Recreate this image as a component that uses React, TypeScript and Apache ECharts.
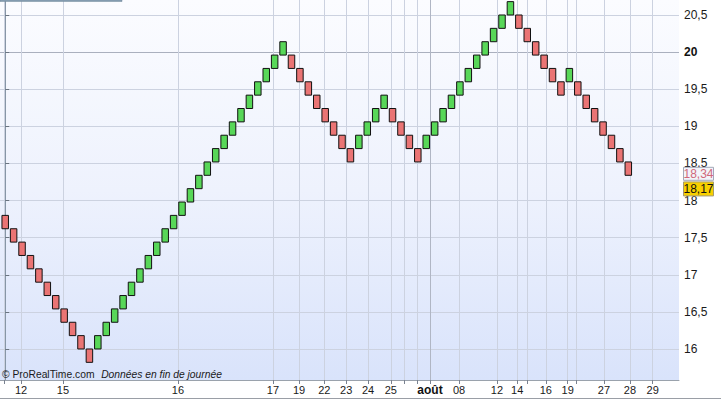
import React, { useEffect, useRef } from 'react';
import * as echarts from 'echarts';

// Renko bricks (box size 0.18), open and close of each brick, left to right
const brickOpen = [
  17.80, 17.62, 17.44, 17.26, 17.08, 16.90, 16.72, 16.54, 16.36, 16.18, 16.00,
  16.00, 16.18, 16.36, 16.54, 16.72, 16.90, 17.08, 17.26, 17.44, 17.62, 17.80, 17.98,
  18.16, 18.34, 18.52, 18.70, 18.88, 19.06, 19.24, 19.42, 19.60, 19.78, 19.96,
  19.96, 19.78, 19.60, 19.42, 19.24, 19.06, 18.88, 18.70,
  18.70, 18.88, 19.06, 19.24,
  19.24, 19.06, 18.88, 18.70,
  18.70, 18.88, 19.06, 19.24, 19.42, 19.60, 19.78, 19.96, 20.14, 20.32, 20.50,
  20.50, 20.32, 20.14, 19.96, 19.78, 19.60,
  19.60,
  19.60, 19.42, 19.24, 19.06, 18.88, 18.70, 18.52,
];
const brickClose = [
  17.62, 17.44, 17.26, 17.08, 16.90, 16.72, 16.54, 16.36, 16.18, 16.00, 15.82,
  16.18, 16.36, 16.54, 16.72, 16.90, 17.08, 17.26, 17.44, 17.62, 17.80, 17.98, 18.16,
  18.34, 18.52, 18.70, 18.88, 19.06, 19.24, 19.42, 19.60, 19.78, 19.96, 20.14,
  19.78, 19.60, 19.42, 19.24, 19.06, 18.88, 18.70, 18.52,
  18.88, 19.06, 19.24, 19.42,
  19.06, 18.88, 18.70, 18.52,
  18.88, 19.06, 19.24, 19.42, 19.60, 19.78, 19.96, 20.14, 20.32, 20.50, 20.68,
  20.32, 20.14, 19.96, 19.78, 19.60, 19.42,
  19.78,
  19.42, 19.24, 19.06, 18.88, 18.70, 18.52, 18.34,
];

// x axis (brick index scale): grid/tick positions and labelled dates
const xTickPos = [-0.14, 1.88, 6.86, 20.52, 31.8, 34.9, 37.9, 40.5, 43.1, 45.8, 47.4, 48.9, 50.45, 53.9, 58.4, 60.8, 61.97, 64.2, 66.8, 67.8, 71.1, 74.2, 76.9];
const xLabelPos = [1.88, 6.86, 20.52, 31.8, 34.9, 37.9, 40.5, 43.1, 45.8, 50.45, 53.9, 58.4, 60.8, 64.2, 66.8, 71.1, 74.2, 76.9];
const xLabels = ['12', '15', '16', '17', '19', '22', '23', '24', '25', 'août', '08', '12', '14', '16', '19', '27', '28', '29'];
const xMajor = [50.45];

const yTicks = [16, 16.5, 17, 17.5, 18, 18.5, 19, 19.5, 20, 20.5];
const yMajor = [20];

const lastClose = 18.34;
const lastPrice = 18.17;

const FONT = '"Liberation Sans", Arial, sans-serif';
const GREEN = '#58d758';
const RED = '#ea7474';

export default function App() {
  const ref = useRef<HTMLDivElement>(null);

  useEffect(() => {
    if (!ref.current) return;
    const chart = echarts.init(ref.current, null, { renderer: 'svg' });
    const data = brickOpen.map((o, i) => [i, o, brickClose[i]]);
    const xMin = -0.618;
    const xMax = 80.02;
    const yMin = 15.582;
    const yMax = 20.702;

    const fmtY = (v: number) => {
      const s = (Math.round(v * 10) / 10).toString().replace('.', ',');
      return yMajor.some((m) => Math.abs(m - v) < 1e-6) ? '{b|' + s + '}' : s;
    };
    const fmtX = (v: number) => {
      const idx = xLabelPos.findIndex((p) => Math.abs(p - v) < 1e-3);
      if (idx < 0) return '';
      const t = xLabels[idx];
      return t === 'août' ? '{b|' + t + '}' : t;
    };

    chart.setOption({
      animation: false,
      grid: [
        {
          left: 0, top: 0, right: 42, bottom: 20,
          show: true,
          borderWidth: 0,
          backgroundColor: new echarts.graphic.LinearGradient(0, 0, 0, 1, [
            { offset: 0, color: '#fbfcff' },
            { offset: 0.5, color: '#eef2fd' },
            { offset: 1, color: '#d9e3fb' },
          ]),
        },
      ],
      xAxis: [
        {
          type: 'value', min: xMin, max: xMax, position: 'bottom',
          axisLine: { show: true, onZero: false, lineStyle: { color: '#9aa2ac', width: 1 } },
          axisTick: { show: true, customValues: xTickPos, length: 4, inside: false, lineStyle: { color: '#7a8290' } },
          axisLabel: {
            show: true, customValues: xLabelPos, formatter: fmtX, margin: 4,
            fontSize: 11, fontFamily: FONT, color: '#1a1a1a',
            rich: { b: { fontWeight: 'bold', fontSize: 12, fontFamily: FONT, color: '#111' } },
          },
          splitLine: { show: true, lineStyle: { color: '#ccd2e0', width: 1 } },
        },
        {
          type: 'value', min: xMin, max: xMax, position: 'bottom',
          axisLine: { show: false },
          axisTick: { show: false, customValues: xMajor },
          axisLabel: { show: false, customValues: xMajor },
          splitLine: { show: true, lineStyle: { color: '#b0b6c4', width: 1 } },
        },
      ],
      yAxis: [
        {
          type: 'value', min: yMin, max: yMax, position: 'right',
          axisLine: { show: true, lineStyle: { color: '#8796a6', width: 1 } },
          axisTick: { show: true, customValues: yTicks, length: 4, inside: false, lineStyle: { color: '#6a7480' } },
          axisLabel: {
            show: true, customValues: yTicks, formatter: fmtY, margin: 5,
            fontSize: 12, fontFamily: FONT, color: '#1a1a1a',
            rich: { b: { fontWeight: 'bold', fontSize: 12, fontFamily: FONT, color: '#111' } },
          },
          splitLine: { show: true, lineStyle: { color: '#ccd2e0', width: 1 } },
        },
        {
          type: 'value', min: yMin, max: yMax, position: 'right',
          axisLine: { show: false },
          axisTick: { show: false, customValues: yMajor },
          axisLabel: { show: false, customValues: yMajor },
          splitLine: { show: true, lineStyle: { color: '#aab0be', width: 1 } },
        },
      ],
      series: [
        {
          type: 'custom',
          xAxisIndex: 0,
          yAxisIndex: 0,
          data,
          encode: { x: 0, y: [1, 2] },
          clip: true,
          renderItem: (params: any, api: any) => {
            const i = api.value(0);
            const o = api.value(1);
            const c = api.value(2);
            const top = api.coord([i, Math.max(o, c)]);
            const bot = api.coord([i, Math.min(o, c)]);
            const w = 6.5;
            return {
              type: 'rect',
              shape: { x: top[0] - w / 2, y: top[1], width: w, height: bot[1] - top[1] },
              style: {
                fill: c > o ? GREEN : RED,
                stroke: '#111',
                lineWidth: 1,
              },
            };
          },
        },
      ],
    });

    const p1 = chart.convertToPixel({ yAxisIndex: 0 }, lastClose) as number;
    const p2 = chart.convertToPixel({ yAxisIndex: 0 }, lastPrice) as number;

    chart.setOption({
      graphic: [
        { type: 'rect', shape: { x: 0, y: 0, width: 122, height: 1.5 }, style: { fill: '#8aa2b6', stroke: '#6f8799', lineWidth: 0.5 }, z: 10 },
        { type: 'line', shape: { x1: 0, y1: 398.5, x2: 721, y2: 398.5 }, style: { stroke: '#9a9ea6', lineWidth: 1 }, z: 10 },
        {
          type: 'text', x: 2, y: 374, z: 10,
          style: {
            text: '{a|© ProRealTime.com}  {b|Données en fin de journée}',
            verticalAlign: 'middle',
            rich: {
              a: { fontSize: 10.3, fontFamily: FONT, fill: '#1a1a1a' },
              b: { fontSize: 10.3, fontFamily: FONT, fontStyle: 'italic', fill: '#1a1a1a' },
            },
          },
        },
        { type: 'rect', shape: { x: 683.5, y: p1 - 8, width: 30, height: 13 }, style: { fill: '#f3f4fa', stroke: '#a3a8b8', lineWidth: 1 }, z: 20 },
        { type: 'text', x: 698.5, y: p1 - 1.5, z: 21, style: { text: lastClose.toFixed(2).replace('.', ','), fontSize: 12, fontFamily: FONT, fill: '#d0697a', align: 'center', verticalAlign: 'middle' } },
        { type: 'rect', shape: { x: 683.5, y: p2 - 6, width: 30, height: 14 }, style: { fill: '#f8d000', stroke: '#a59a70', lineWidth: 1 }, z: 20 },
        { type: 'text', x: 698.5, y: p2 + 1, z: 21, style: { text: lastPrice.toFixed(2).replace('.', ','), fontSize: 12, fontFamily: FONT, fill: '#111', align: 'center', verticalAlign: 'middle' } },
      ],
    });

    return () => chart.dispose();
  }, []);

  return (
    <div
      ref={ref}
      style={{ position: 'absolute', left: 0, top: 0, width: 721, height: 400, background: '#ffffff' }}
    />
  );
}
